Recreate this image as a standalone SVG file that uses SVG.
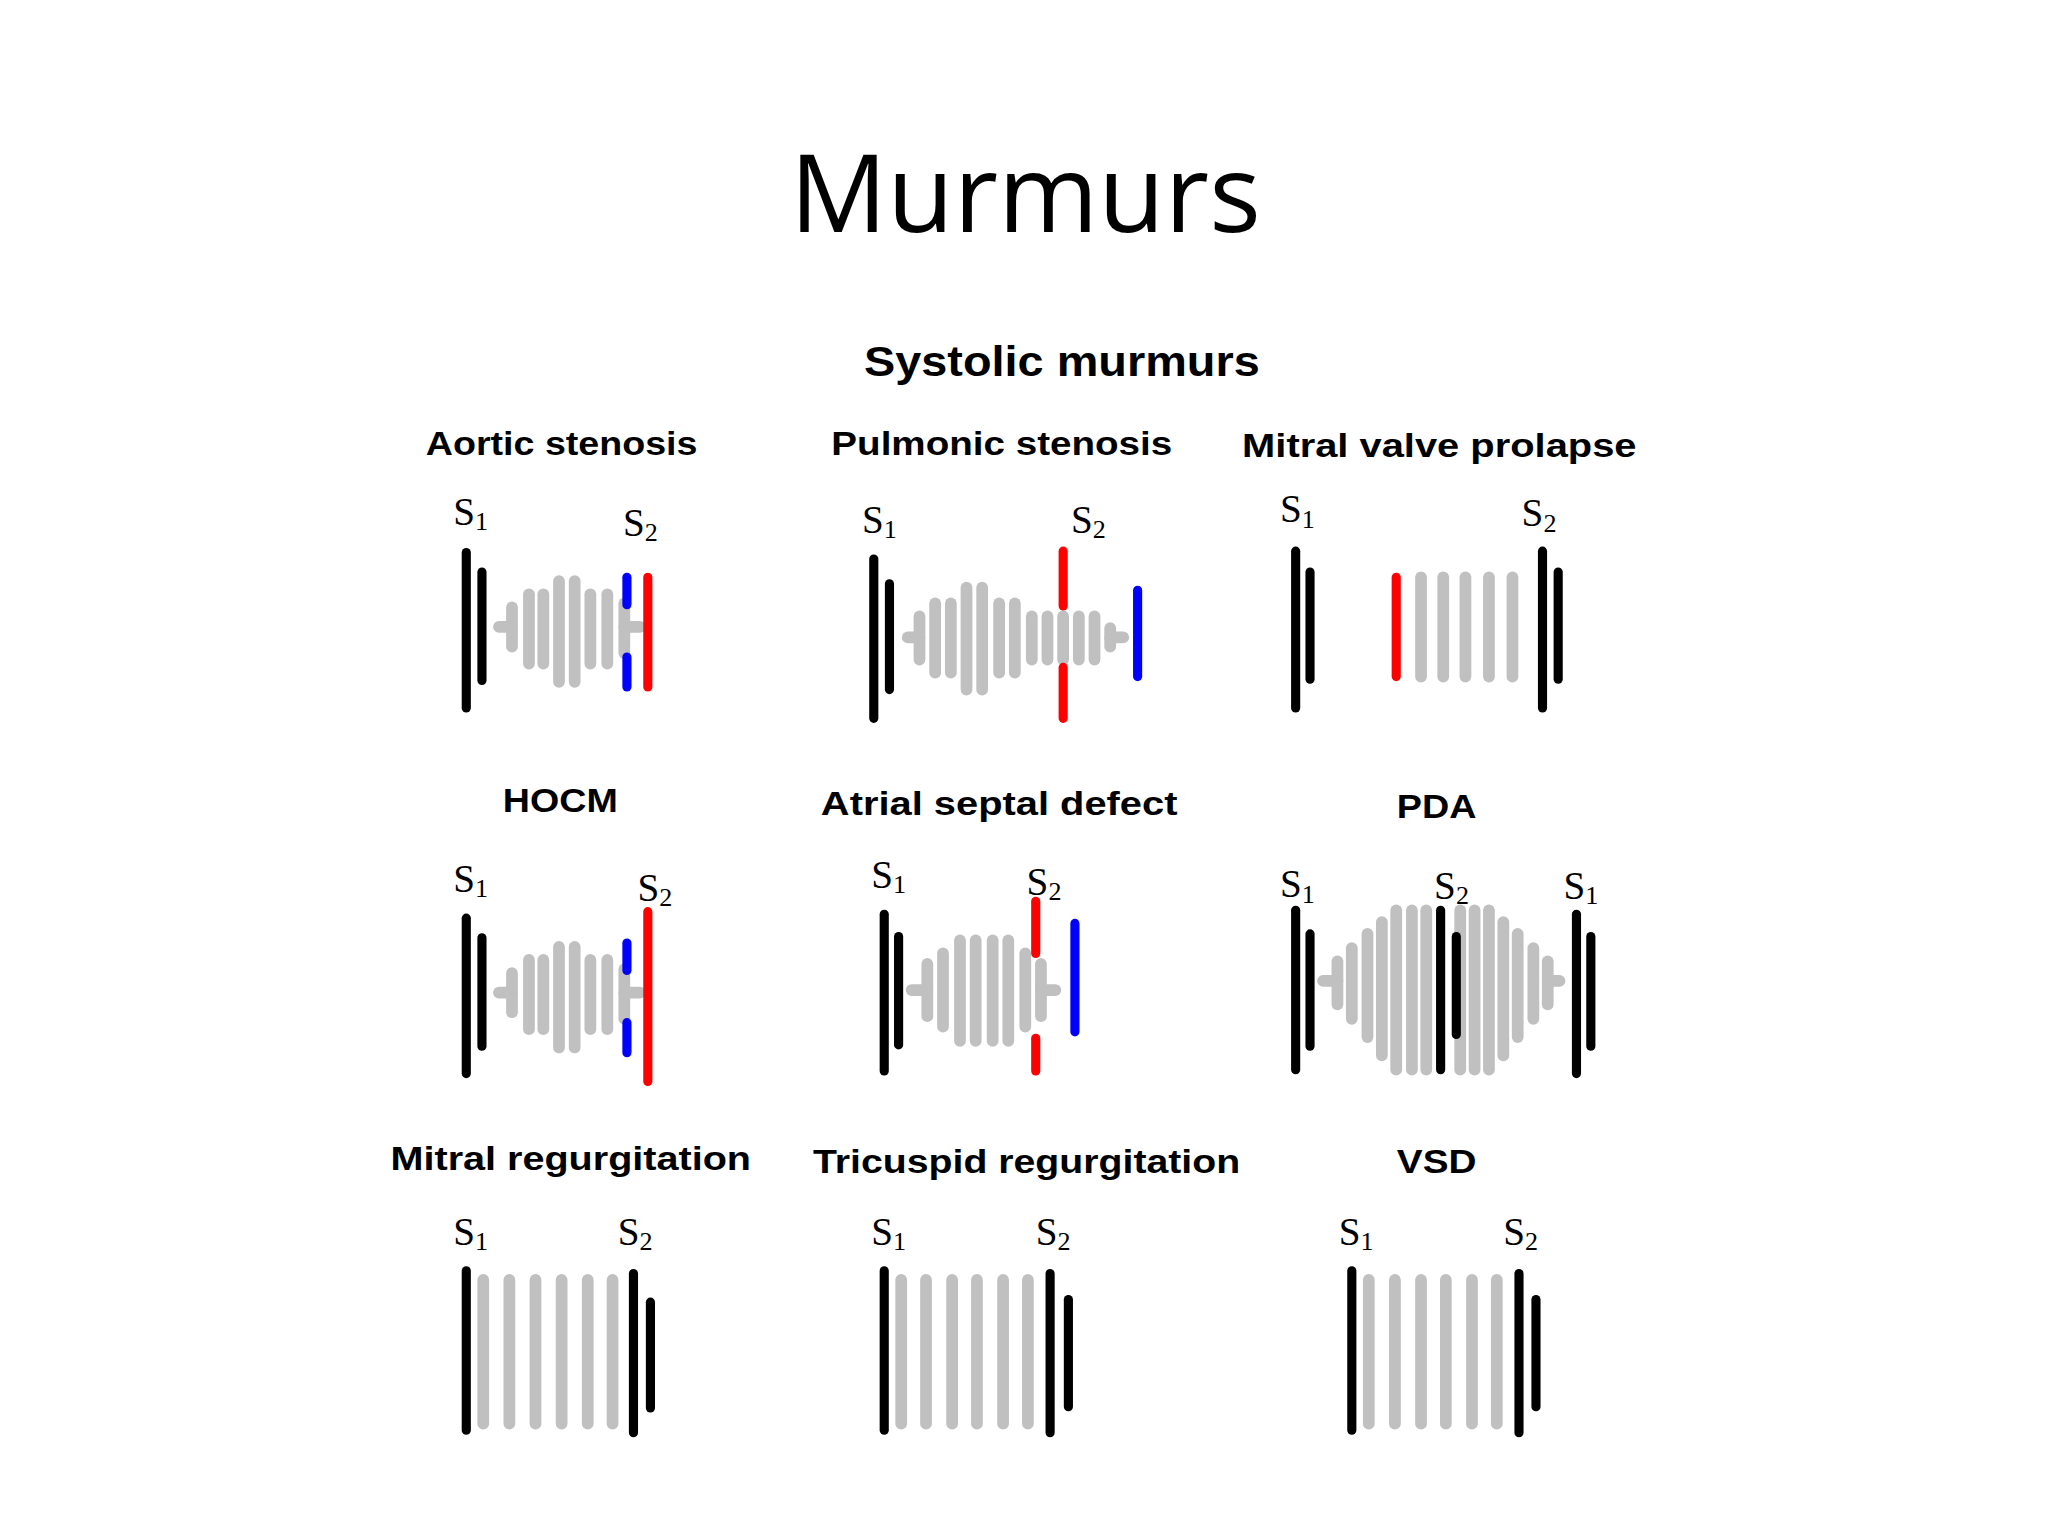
<svg xmlns="http://www.w3.org/2000/svg" width="2048" height="1536" viewBox="0 0 2048 1536">
<style>
.k{stroke:#000;stroke-width:7;stroke-linecap:round}
.g{stroke:#c0c0c0;stroke-width:9;stroke-linecap:round}
.r{stroke:#f00;stroke-width:7;stroke-linecap:round}
.b{stroke:#00f;stroke-width:7;stroke-linecap:round}
.lab{font-family:"Liberation Sans",Arial,sans-serif;font-weight:bold;font-size:26px;text-anchor:middle;fill:#000}
.s{font-family:"Liberation Serif","Times New Roman",serif;font-size:30px;fill:#000}
.sub{font-size:20px}
</style>
<rect width="2048" height="1536" fill="#fff"/>
<g transform="scale(1.3061)">
<text x="785" y="178" font-family="'Open Sans','Noto Sans',sans-serif" font-size="83" text-anchor="middle">Murmurs</text>
<text x="813" y="288" class="lab" style="font-size:32px" textLength="303" lengthAdjust="spacingAndGlyphs">Systolic murmurs</text>

<g id="aortic">
<text x="430" y="348" class="lab" textLength="208" lengthAdjust="spacingAndGlyphs">Aortic stenosis</text>
<text x="347" y="402" class="s">S<tspan class="sub" dy="4">1</tspan></text>
<text x="477" y="410" class="s">S<tspan class="sub" dy="4">2</tspan></text>
<line class="g" x1="382" y1="480" x2="392" y2="480"/>
<line class="g" x1="478" y1="480" x2="490" y2="480"/>
<line class="g" x1="392" y1="465" x2="392" y2="495"/>
<line class="g" x1="405" y1="455" x2="405" y2="508"/>
<line class="g" x1="416" y1="455" x2="416" y2="508"/>
<line class="g" x1="428" y1="445" x2="428" y2="522"/>
<line class="g" x1="440" y1="445" x2="440" y2="522"/>
<line class="g" x1="452" y1="455" x2="452" y2="508"/>
<line class="g" x1="465" y1="455" x2="465" y2="508"/>
<line class="g" x1="478" y1="462" x2="478" y2="500"/>
<line class="k" x1="357" y1="423" x2="357" y2="542"/>
<line class="k" x1="369" y1="438" x2="369" y2="521"/>
<line class="b" x1="480" y1="442" x2="480" y2="463"/>
<line class="b" x1="480" y1="503" x2="480" y2="526"/>
<line class="r" x1="496" y1="442" x2="496" y2="526"/>
</g>

<g id="pulmonic">
<text x="767" y="348" class="lab" textLength="261" lengthAdjust="spacingAndGlyphs">Pulmonic stenosis</text>
<text x="660" y="408" class="s">S<tspan class="sub" dy="4">1</tspan></text>
<text x="820" y="408" class="s">S<tspan class="sub" dy="4">2</tspan></text>
<line class="g" x1="695" y1="488" x2="704" y2="488"/>
<line class="g" x1="850" y1="488" x2="860" y2="488"/>
<line class="g" x1="704" y1="472" x2="704" y2="505"/>
<line class="g" x1="716" y1="462" x2="716" y2="515"/>
<line class="g" x1="728" y1="462" x2="728" y2="515"/>
<line class="g" x1="740" y1="450" x2="740" y2="528"/>
<line class="g" x1="752" y1="450" x2="752" y2="528"/>
<line class="g" x1="765" y1="462" x2="765" y2="515"/>
<line class="g" x1="777" y1="462" x2="777" y2="515"/>
<line class="g" x1="790" y1="472" x2="790" y2="505"/>
<line class="g" x1="802" y1="472" x2="802" y2="505"/>
<line class="g" x1="814" y1="472" x2="814" y2="505"/>
<line class="g" x1="826" y1="472" x2="826" y2="505"/>
<line class="g" x1="838" y1="472" x2="838" y2="505"/>
<line class="g" x1="850" y1="481" x2="850" y2="495"/>
<line class="k" x1="669" y1="428" x2="669" y2="550"/>
<line class="k" x1="681" y1="447" x2="681" y2="528"/>
<line class="r" x1="814" y1="422" x2="814" y2="464"/>
<line class="r" x1="814" y1="511" x2="814" y2="550"/>
<line class="b" x1="871" y1="452" x2="871" y2="518"/>
</g>

<g id="mvp">
<text x="1102" y="350" class="lab" textLength="302" lengthAdjust="spacingAndGlyphs">Mitral valve prolapse</text>
<text x="980" y="400" class="s">S<tspan class="sub" dy="4">1</tspan></text>
<text x="1165" y="403" class="s">S<tspan class="sub" dy="4">2</tspan></text>
<line class="k" x1="992" y1="422" x2="992" y2="542"/>
<line class="k" x1="1003" y1="438" x2="1003" y2="520"/>
<line class="r" x1="1069" y1="442" x2="1069" y2="518"/>
<line class="g" x1="1088" y1="442" x2="1088" y2="518"/>
<line class="g" x1="1105" y1="442" x2="1105" y2="518"/>
<line class="g" x1="1122" y1="442" x2="1122" y2="518"/>
<line class="g" x1="1140" y1="442" x2="1140" y2="518"/>
<line class="g" x1="1158" y1="442" x2="1158" y2="518"/>
<line class="k" x1="1181" y1="422" x2="1181" y2="542"/>
<line class="k" x1="1193" y1="438" x2="1193" y2="520"/>
</g>

<g id="hocm">
<text x="429" y="622" class="lab" textLength="88" lengthAdjust="spacingAndGlyphs">HOCM</text>
<text x="347" y="683" class="s">S<tspan class="sub" dy="4">1</tspan></text>
<text x="488" y="690" class="s">S<tspan class="sub" dy="4">2</tspan></text>
<g transform="translate(0,280)">
<line class="g" x1="382" y1="480" x2="392" y2="480"/>
<line class="g" x1="478" y1="480" x2="490" y2="480"/>
<line class="g" x1="392" y1="465" x2="392" y2="495"/>
<line class="g" x1="405" y1="455" x2="405" y2="508"/>
<line class="g" x1="416" y1="455" x2="416" y2="508"/>
<line class="g" x1="428" y1="445" x2="428" y2="522"/>
<line class="g" x1="440" y1="445" x2="440" y2="522"/>
<line class="g" x1="452" y1="455" x2="452" y2="508"/>
<line class="g" x1="465" y1="455" x2="465" y2="508"/>
<line class="g" x1="478" y1="462" x2="478" y2="500"/>
<line class="k" x1="357" y1="423" x2="357" y2="542"/>
<line class="k" x1="369" y1="438" x2="369" y2="521"/>
<line class="b" x1="480" y1="442" x2="480" y2="463"/>
<line class="b" x1="480" y1="503" x2="480" y2="526"/>
<line class="r" x1="496" y1="418" x2="496" y2="548"/>
</g>
</g>

<g id="asd">
<text x="765" y="624" class="lab" textLength="273" lengthAdjust="spacingAndGlyphs">Atrial septal defect</text>
<text x="667" y="680" class="s">S<tspan class="sub" dy="4">1</tspan></text>
<text x="786" y="685" class="s">S<tspan class="sub" dy="4">2</tspan></text>
<line class="g" x1="698" y1="758" x2="710" y2="758"/>
<line class="g" x1="797" y1="758" x2="808" y2="758"/>
<line class="g" x1="710" y1="738" x2="710" y2="778"/>
<line class="g" x1="722" y1="730" x2="722" y2="786"/>
<line class="g" x1="735" y1="720" x2="735" y2="797"/>
<line class="g" x1="747" y1="720" x2="747" y2="797"/>
<line class="g" x1="760" y1="720" x2="760" y2="797"/>
<line class="g" x1="772" y1="720" x2="772" y2="797"/>
<line class="g" x1="785" y1="730" x2="785" y2="786"/>
<line class="g" x1="797" y1="738" x2="797" y2="778"/>
<line class="k" x1="677" y1="700" x2="677" y2="820"/>
<line class="k" x1="688" y1="717" x2="688" y2="800"/>
<line class="r" x1="793" y1="690" x2="793" y2="730"/>
<line class="r" x1="793" y1="795" x2="793" y2="820"/>
<line class="b" x1="823" y1="707" x2="823" y2="790"/>
</g>

<g id="pda">
<text x="1100" y="626" class="lab" textLength="61" lengthAdjust="spacingAndGlyphs">PDA</text>
<text x="980" y="687" class="s">S<tspan class="sub" dy="4">1</tspan></text>
<text x="1098" y="688" class="s">S<tspan class="sub" dy="4">2</tspan></text>
<text x="1197" y="688" class="s">S<tspan class="sub" dy="4">1</tspan></text>
<line class="g" x1="1013" y1="751" x2="1024" y2="751"/>
<line class="g" x1="1185" y1="751" x2="1194" y2="751"/>
<line class="g" x1="1024" y1="736" x2="1024" y2="769"/>
<line class="g" x1="1035" y1="726" x2="1035" y2="780"/>
<line class="g" x1="1047" y1="715" x2="1047" y2="794"/>
<line class="g" x1="1058" y1="706" x2="1058" y2="808"/>
<line class="g" x1="1069" y1="697" x2="1069" y2="819"/>
<line class="g" x1="1081" y1="697" x2="1081" y2="819"/>
<line class="g" x1="1092" y1="697" x2="1092" y2="819"/>
<line class="g" x1="1118" y1="697" x2="1118" y2="819"/>
<line class="g" x1="1129" y1="697" x2="1129" y2="819"/>
<line class="g" x1="1140" y1="697" x2="1140" y2="819"/>
<line class="g" x1="1151" y1="706" x2="1151" y2="808"/>
<line class="g" x1="1162" y1="715" x2="1162" y2="794"/>
<line class="g" x1="1174" y1="726" x2="1174" y2="780"/>
<line class="g" x1="1185" y1="736" x2="1185" y2="769"/>
<line class="k" x1="992" y1="697" x2="992" y2="819"/>
<line class="k" x1="1003" y1="715" x2="1003" y2="801"/>
<line class="k" x1="1103" y1="697" x2="1103" y2="819"/>
<line class="k" x1="1115" y1="717" x2="1115" y2="792"/>
<line class="k" x1="1207" y1="700" x2="1207" y2="822"/>
<line class="k" x1="1218" y1="717" x2="1218" y2="801"/>
</g>

<g id="mr">
<text x="437" y="896" class="lab" textLength="276" lengthAdjust="spacingAndGlyphs">Mitral regurgitation</text>
<text x="347" y="953" class="s">S<tspan class="sub" dy="4">1</tspan></text>
<text x="473" y="953" class="s">S<tspan class="sub" dy="4">2</tspan></text>
<line class="g" x1="370" y1="980" x2="370" y2="1090"/>
<line class="g" x1="390" y1="980" x2="390" y2="1090"/>
<line class="g" x1="410" y1="980" x2="410" y2="1090"/>
<line class="g" x1="430" y1="980" x2="430" y2="1090"/>
<line class="g" x1="450" y1="980" x2="450" y2="1090"/>
<line class="g" x1="469" y1="980" x2="469" y2="1090"/>
<line class="k" x1="357" y1="973" x2="357" y2="1095"/>
<line class="k" x1="485" y1="975" x2="485" y2="1097"/>
<line class="k" x1="498" y1="997" x2="498" y2="1078"/>
</g>

<g id="tr">
<text x="786" y="898" class="lab" textLength="327" lengthAdjust="spacingAndGlyphs">Tricuspid regurgitation</text>
<text x="667" y="953" class="s">S<tspan class="sub" dy="4">1</tspan></text>
<text x="793" y="953" class="s">S<tspan class="sub" dy="4">2</tspan></text>
<line class="g" x1="690" y1="980" x2="690" y2="1090"/>
<line class="g" x1="709" y1="980" x2="709" y2="1090"/>
<line class="g" x1="729" y1="980" x2="729" y2="1090"/>
<line class="g" x1="748" y1="980" x2="748" y2="1090"/>
<line class="g" x1="768" y1="980" x2="768" y2="1090"/>
<line class="g" x1="787" y1="980" x2="787" y2="1090"/>
<line class="k" x1="677" y1="973" x2="677" y2="1095"/>
<line class="k" x1="804" y1="975" x2="804" y2="1097"/>
<line class="k" x1="818" y1="995" x2="818" y2="1077"/>
</g>

<g id="vsd">
<text x="1100" y="898" class="lab" textLength="61" lengthAdjust="spacingAndGlyphs">VSD</text>
<text x="1025" y="953" class="s">S<tspan class="sub" dy="4">1</tspan></text>
<text x="1151" y="953" class="s">S<tspan class="sub" dy="4">2</tspan></text>
<line class="g" x1="1048" y1="980" x2="1048" y2="1090"/>
<line class="g" x1="1068" y1="980" x2="1068" y2="1090"/>
<line class="g" x1="1088" y1="980" x2="1088" y2="1090"/>
<line class="g" x1="1107" y1="980" x2="1107" y2="1090"/>
<line class="g" x1="1127" y1="980" x2="1127" y2="1090"/>
<line class="g" x1="1146" y1="980" x2="1146" y2="1090"/>
<line class="k" x1="1035" y1="973" x2="1035" y2="1095"/>
<line class="k" x1="1163" y1="975" x2="1163" y2="1097"/>
<line class="k" x1="1176" y1="995" x2="1176" y2="1077"/>
</g>
</g>
</svg>
